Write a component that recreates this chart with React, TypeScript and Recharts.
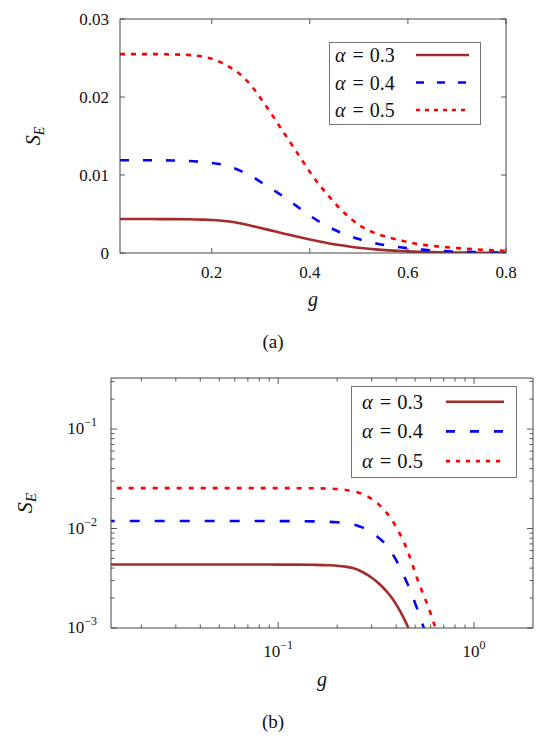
import React from 'react';
import { LineChart, Line, XAxis, YAxis, Legend, Label } from 'recharts';

// g values shared by both panels
const gValues = [
  0.013, 0.02, 0.03, 0.05, 0.08, 0.1, 0.12, 0.15, 0.18, 0.2, 0.22, 0.24, 0.26, 0.28, 0.3, 0.32, 0.34,
  0.36, 0.38, 0.4, 0.42, 0.44, 0.46, 0.48, 0.5, 0.52, 0.54, 0.56, 0.58, 0.6, 0.63, 0.66, 0.7, 0.75, 0.8,
];

// S_E for alpha = 0.3, 0.4, 0.5
const sAlpha03 = [
  0.00435, 0.00435, 0.00435, 0.00435, 0.00435, 0.00434, 0.00434, 0.00432, 0.00428, 0.00423, 0.00414,
  0.004, 0.00378, 0.0035, 0.0032, 0.0029, 0.0026, 0.0023, 0.00201, 0.00173, 0.00147, 0.00123, 0.00102,
  0.00083, 0.00067, 0.00054, 0.00043, 0.00034, 0.00027, 0.00021, 0.00015, 0.0001, 0.00006, 0.00003, 0.000015,
];
const sAlpha04 = [
  0.0119, 0.0119, 0.0119, 0.0119, 0.01189, 0.01188, 0.01186, 0.0118, 0.01168, 0.01155, 0.01135, 0.011,
  0.0105, 0.0099, 0.0091, 0.0083, 0.0075, 0.0066, 0.0057, 0.0048, 0.004, 0.0033, 0.0027, 0.0022, 0.00178,
  0.00144, 0.00116, 0.00094, 0.00076, 0.00061, 0.00043, 0.0003, 0.00018, 0.0001, 0.00005,
];
const sAlpha05 = [
  0.0255, 0.0255, 0.0255, 0.0255, 0.0255, 0.02548, 0.02545, 0.0254, 0.0252, 0.0249, 0.0244, 0.0237,
  0.0228, 0.0215, 0.0198, 0.018, 0.0161, 0.0142, 0.0123, 0.0104, 0.0087, 0.0072, 0.0058, 0.0046, 0.0036,
  0.0029, 0.0024, 0.002, 0.0017, 0.0014, 0.00105, 0.00085, 0.00063, 0.00042, 0.00028,
];

const alphaLabels = ['0.3', '0.4', '0.5'];

// axis ticks
const linXTicks = [0.2, 0.4, 0.6, 0.8];
const linYTicks = [0, 0.01, 0.02, 0.03];
const logXMajor = [0.1, 1];
const logXTicks = [0.02, 0.03, 0.04, 0.05, 0.06, 0.07, 0.08, 0.09, 0.1, 0.2, 0.3, 0.4, 0.5, 0.6, 0.7, 0.8, 0.9, 1];
const logYMajor = [0.001, 0.01, 0.1];
const logYTicks = [
  0.001, 0.002, 0.003, 0.004, 0.005, 0.006, 0.007, 0.008, 0.009, 0.01, 0.02, 0.03, 0.04, 0.05, 0.06,
  0.07, 0.08, 0.09, 0.1, 0.2, 0.3,
];

const data = gValues.map((g, i) => ({ g, a3: sAlpha03[i], a4: sAlpha04[i], a5: sAlpha05[i] }));

const FONT = "'Liberation Serif', 'DejaVu Serif', 'Noto Serif', 'Nimbus Roman', FreeSerif, Tinos, Times, serif";
const AXIS = '#454545';

const series = [
  { key: 'a3', color: '#a52a2a' },
  { key: 'a4', color: '#0000ff' },
  { key: 'a5', color: '#ff0000' },
];

type Side = 'bottom' | 'top' | 'left' | 'right';

function makeTick(
  side: Side,
  majors: number[],
  majorLen: number,
  minorLen: number,
  render?: (v: number, x: number, y: number) => React.ReactNode,
) {
  return (props: any) => {
    const { x, y, payload } = props;
    const v = payload.value as number;
    const isMajor = majors.some((m) => Math.abs(m - v) <= Math.max(Math.abs(m), 1e-12) * 1e-6);
    const len = isMajor ? majorLen : minorLen;
    let x2 = x;
    let y2 = y;
    if (side === 'bottom') y2 = y - len;
    else if (side === 'top') y2 = y + len;
    else if (side === 'left') x2 = x + len;
    else x2 = x - len;
    return (
      <g>
        <line x1={x} y1={y} x2={x2} y2={y2} stroke={AXIS} strokeWidth={0.9} />
        {isMajor && render ? render(v, x, y) : null}
      </g>
    );
  };
}

const pow10 = (v: number) => {
  const e = Math.round(Math.log10(v));
  return e < 0 ? '\u2212' + Math.abs(e) : String(e);
};

type LegendCfg = { w: number; h: number; row0: number; gap: number; textX: number; lx1: number; lx2: number; font: number; dashes: (string | undefined)[] };

const makeLegend = (c: LegendCfg) => () => (
  <svg width={c.w} height={c.h} style={{ display: 'block' }}>
    <rect x={0.5} y={0.5} width={c.w - 1} height={c.h - 1} fill="#fff" stroke="#777" strokeWidth={1} />
    {series.map((s, i) => {
      const cy = c.row0 + i * c.gap;
      return (
        <g key={s.key}>
          <text x={c.textX} y={cy + 7} fontSize={c.font} fontFamily={FONT} fill="#111">
            <tspan fontStyle="italic">α</tspan>
            <tspan dx={7}>=</tspan>
            <tspan dx={6}>{alphaLabels[i]}</tspan>
          </text>
          <line x1={c.lx1} x2={c.lx2} y1={cy} y2={cy} stroke={s.color} strokeWidth={2.6} strokeDasharray={c.dashes[i]} />
        </g>
      );
    })}
  </svg>
);

const SELabel = (dx: number, size: number) => (p: any) => {
  const vb = p.viewBox;
  const cx = vb.x + dx;
  const cy = vb.y + vb.height / 2;
  return (
    <text x={cx} y={cy} transform={`rotate(-90, ${cx}, ${cy})`} textAnchor="middle" fontFamily={FONT} fontSize={size} fontStyle="italic" fill="#111">
      S<tspan dy={4} fontSize={size * 0.7}>E</tspan>
    </text>
  );
};

const GLabel = (dy: number) => (p: any) => {
  const vb = p.viewBox;
  return (
    <text x={vb.x + vb.width / 2} y={vb.y + dy} textAnchor="middle" fontFamily={FONT} fontSize={20} fontStyle="italic" fill="#111">
      g
    </text>
  );
};

const LinearPanel = () => (
  <LineChart width={546} height={330} data={data} margin={{ top: 18, right: 39, bottom: 0, left: 0 }}>
    <XAxis
      xAxisId="b"
      dataKey="g"
      type="number"
      domain={[0.013, 0.8]}
      allowDataOverflow
      ticks={linXTicks}
      interval={0}
      height={77}
      tickSize={0}
      tickMargin={0}
      tickLine={false}
      axisLine={{ stroke: AXIS }}
      tick={makeTick('bottom', linXTicks, 5, 3, (v, x, y) => (
        <text x={x} y={y + 25} textAnchor="middle" fontFamily={FONT} fontSize={17} fill="#111">
          {v.toFixed(1)}
        </text>
      ))}
    >
      <Label content={GLabel(53)} />
    </XAxis>
    <XAxis xAxisId="t" dataKey="g" orientation="top" type="number" domain={[0.013, 0.8]} allowDataOverflow ticks={linXTicks} interval={0} height={1} tickSize={0} tickMargin={0} tickLine={false} axisLine={{ stroke: AXIS }} tick={makeTick('top', linXTicks, 5, 3)} />
    <YAxis
      yAxisId="l"
      type="number"
      domain={[0, 0.03]}
      allowDataOverflow
      ticks={linYTicks}
      interval={0}
      width={120}
      tickSize={0}
      tickMargin={0}
      tickLine={false}
      axisLine={{ stroke: AXIS }}
      tick={makeTick('left', linYTicks, 5, 3, (v, x, y) => (
        <text x={x - 11} y={y + 6} textAnchor="end" fontFamily={FONT} fontSize={17} fill="#111">
          {v === 0 ? '0' : v.toFixed(2)}
        </text>
      ))}
    >
      <Label content={SELabel(40, 20)} />
    </YAxis>
    <YAxis yAxisId="r" orientation="right" type="number" domain={[0, 0.03]} allowDataOverflow ticks={linYTicks} interval={0} width={1} tickSize={0} tickMargin={0} tickLine={false} axisLine={{ stroke: AXIS }} tick={makeTick('right', linYTicks, 5, 3)} />
    {series.map((s, i) => (
      <Line key={s.key} xAxisId="b" yAxisId="l" type="monotone" dataKey={s.key} stroke={s.color} strokeWidth={2.6} strokeDasharray={i === 1 ? '9 14' : i === 2 ? '5 6' : undefined} dot={false} activeDot={false} isAnimationActive={false} />
    ))}
    {/* keep the hidden top/right axes bound to the data */}
    <Line xAxisId="t" yAxisId="r" dataKey="a3" stroke="none" dot={false} activeDot={false} legendType="none" isAnimationActive={false} />
    <Legend
      layout="horizontal"
      verticalAlign="middle"
      content={makeLegend({ w: 152, h: 83, row0: 13, gap: 27.5, textX: 6, lx1: 87, lx2: 140, font: 20, dashes: [undefined, '8 13', '4 5'] })}
      wrapperStyle={{ left: 329, top: 42, width: 152, height: 83 }}
    />
  </LineChart>
);

const LogPanel = () => (
  <LineChart width={546} height={382} data={data} margin={{ top: 17, right: 12, bottom: 0, left: 0 }}>
    <XAxis
      xAxisId="b"
      dataKey="g"
      type="number"
      scale="log"
      domain={[0.014, 2]}
      allowDataOverflow
      ticks={logXTicks}
      interval={0}
      height={114}
      tickSize={0}
      tickMargin={0}
      tickLine={false}
      axisLine={{ stroke: AXIS }}
      tick={makeTick('bottom', logXMajor, 6, 3.5, (v, x, y) => (
        <text x={x} y={y + 29} textAnchor="middle" fontFamily={FONT} fontSize={17} fill="#111">
          <tspan>10</tspan>
          <tspan dy={-8} fontSize={12}>{pow10(v)}</tspan>
        </text>
      ))}
    >
      <Label content={GLabel(58)} />
    </XAxis>
    <XAxis xAxisId="t" dataKey="g" orientation="top" type="number" scale="log" domain={[0.014, 2]} allowDataOverflow ticks={logXTicks} interval={0} height={1} tickSize={0} tickMargin={0} tickLine={false} axisLine={{ stroke: AXIS }} tick={makeTick('top', logXMajor, 6, 3.5)} />
    <YAxis
      yAxisId="l"
      type="number"
      scale="log"
      domain={[0.001, 0.326]}
      allowDataOverflow
      ticks={logYTicks}
      interval={0}
      width={111}
      tickSize={0}
      tickMargin={0}
      tickLine={false}
      axisLine={{ stroke: AXIS }}
      tick={makeTick('left', logYMajor, 6, 3.5, (v, x, y) => (
        <text x={x - 14} y={y + 5} textAnchor="end" fontFamily={FONT} fontSize={17} fill="#111">
          <tspan>10</tspan>
          <tspan dy={-8} fontSize={12}>{pow10(v)}</tspan>
        </text>
      ))}
    >
      <Label content={SELabel(32, 22)} />
    </YAxis>
    <YAxis yAxisId="r" orientation="right" type="number" scale="log" domain={[0.001, 0.326]} allowDataOverflow ticks={logYTicks} interval={0} width={1} tickSize={0} tickMargin={0} tickLine={false} axisLine={{ stroke: AXIS }} tick={makeTick('right', logYMajor, 6, 3.5)} />
    {series.map((s, i) => (
      <Line key={s.key} xAxisId="b" yAxisId="l" type="monotone" dataKey={s.key} stroke={s.color} strokeWidth={2.6} strokeDasharray={i === 1 ? '10 15' : i === 2 ? '5 7' : undefined} dot={false} activeDot={false} isAnimationActive={false} />
    ))}
    <Line xAxisId="t" yAxisId="r" dataKey="a3" stroke="none" dot={false} activeDot={false} legendType="none" isAnimationActive={false} />
    <Legend
      layout="horizontal"
      verticalAlign="middle"
      content={makeLegend({ w: 166, h: 92, row0: 15.7, gap: 29.7, textX: 11, lx1: 95, lx2: 153, font: 20.5, dashes: [undefined, '9 15', '4 6'] })}
      wrapperStyle={{ left: 351, top: 26, width: 166, height: 92 }}
    />
  </LineChart>
);

export default function App() {
  return (
    <div style={{ position: 'absolute', left: 0, top: 0, width: 546, height: 742, background: '#fff', fontFamily: FONT }}>
      <div style={{ position: 'absolute', left: 0, top: 0 }}>
        <LinearPanel />
      </div>
      <div style={{ position: 'absolute', left: 0, top: 332, width: 546, textAlign: 'center', fontSize: 19, lineHeight: '20px', color: '#111' }}>
        (a)
      </div>
      <div style={{ position: 'absolute', left: 0, top: 360 }}>
        <LogPanel />
      </div>
      <div style={{ position: 'absolute', left: 0, top: 712, width: 546, textAlign: 'center', fontSize: 19, lineHeight: '20px', color: '#111' }}>
        (b)
      </div>
    </div>
  );
}
